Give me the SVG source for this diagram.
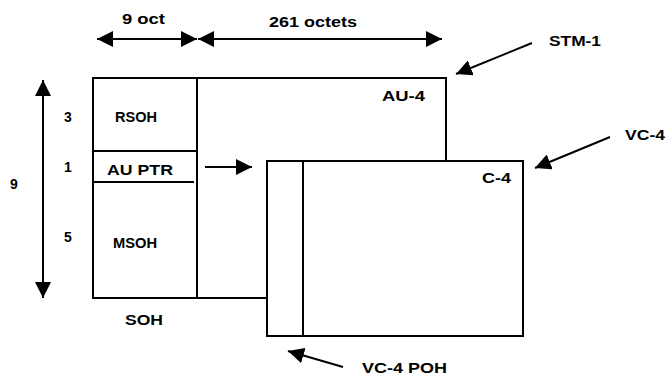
<svg xmlns="http://www.w3.org/2000/svg" width="666" height="376" viewBox="0 0 666 376">
<defs>
<style>
.t{font-family:"Liberation Sans",Arial,sans-serif;font-weight:bold;font-size:14px;fill:#000}
.b{fill:none;stroke:#000;stroke-width:2}
.a{fill:none;stroke:#000;stroke-width:2}
</style>
<marker id="ah" markerUnits="userSpaceOnUse" markerWidth="18" markerHeight="16" refX="16" refY="8" orient="auto-start-reverse" viewBox="0 0 18 16">
<polygon points="0,0 16,8 0,16" fill="#000"/>
</marker>
</defs>
<rect width="666" height="376" fill="#fff"/>
<g id="stm1">
<path class="b" d="M446,161 V78 H93 V298 H267"/>
<line class="b" x1="197" y1="78" x2="197" y2="298"/>
<line class="b" x1="93" y1="151" x2="197" y2="151"/>
<line class="b" x1="93" y1="182" x2="194" y2="182"/>
<text class="t" x="382" y="101" textLength="43" lengthAdjust="spacingAndGlyphs">AU-4</text>
<text class="t" x="115" y="122" textLength="42" lengthAdjust="spacingAndGlyphs">RSOH</text>
<text class="t" x="107" y="175" textLength="66" lengthAdjust="spacingAndGlyphs">AU PTR</text>
<text class="t" x="113" y="248" textLength="44" lengthAdjust="spacingAndGlyphs">MSOH</text>
<text class="t" x="125" y="325" textLength="38" lengthAdjust="spacingAndGlyphs">SOH</text>
</g>
<g id="vc4">
<rect class="b" x="267" y="161" width="256" height="175"/>
<line class="b" x1="303" y1="161" x2="303" y2="336"/>
<text class="t" x="482" y="183" textLength="29" lengthAdjust="spacingAndGlyphs">C-4</text>
</g>
<g id="labels">
<text class="t" x="122" y="24" textLength="43" lengthAdjust="spacingAndGlyphs">9 oct</text>
<text class="t" x="269" y="27" textLength="88" lengthAdjust="spacingAndGlyphs">261 octets</text>
<text class="t" x="549" y="46" textLength="52" lengthAdjust="spacingAndGlyphs">STM-1</text>
<text class="t" x="625" y="140" textLength="40" lengthAdjust="spacingAndGlyphs">VC-4</text>
<text class="t" x="362" y="373" textLength="85" lengthAdjust="spacingAndGlyphs">VC-4 POH</text>
<text class="t" x="64" y="122">3</text>
<text class="t" x="64" y="172">1</text>
<text class="t" x="64" y="242">5</text>
<text class="t" x="10" y="189">9</text>
</g>
<g id="connectors">
<line class="a" x1="97" y1="39" x2="197" y2="39" marker-start="url(#ah)" marker-end="url(#ah)"/>
<line class="a" x1="198" y1="39" x2="442" y2="39" marker-start="url(#ah)" marker-end="url(#ah)"/>
<line class="a" x1="43" y1="80" x2="43" y2="298" marker-start="url(#ah)" marker-end="url(#ah)"/>
<line class="a" x1="205" y1="167" x2="252" y2="167" marker-end="url(#ah)"/>
<line class="a" x1="532" y1="43" x2="456" y2="74" marker-end="url(#ah)"/>
<line class="a" x1="610" y1="137" x2="535" y2="168" marker-end="url(#ah)"/>
<line class="a" x1="343" y1="367" x2="288" y2="351" marker-end="url(#ah)"/>
</g>
</svg>
